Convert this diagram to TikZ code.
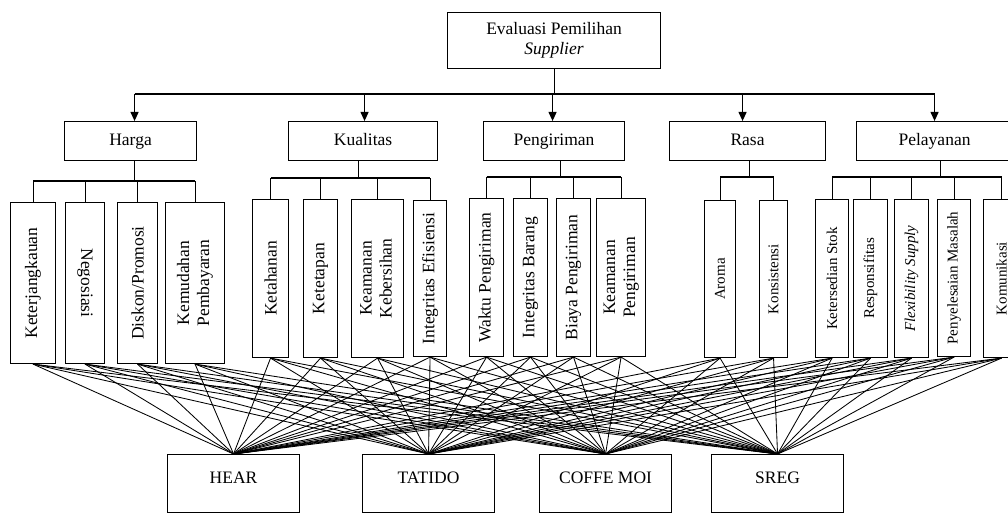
\documentclass[tikz,border=0pt]{standalone}
\usepackage{fontspec}
\setmainfont{Liberation Serif}
\usetikzlibrary{arrows.meta}
\begin{document}
\begin{tikzpicture}[x=1pt,y=-1pt,
  box/.style={draw, line width=1.1pt, inner sep=0pt, anchor=north west, font=\fontsize{17.5}{20}\selectfont},
  lvl/.style={box, minimum height=39, text height=12pt, text depth=4pt},
  sub/.style={box},
  smalltxt/.style={font=\fontsize{15}{18}\selectfont},
  altbox/.style={box, minimum width=132, text height=29pt, text depth=29pt},
  conn/.style={line width=0.85pt},
  tree/.style={line width=1.1pt},
  arr/.style={line width=1.1pt, -{Triangle[length=9pt,width=8pt]}},
]
\useasboundingbox (0,0) rectangle (1008,513);
\clip (0,0) rectangle (1008,513);

% top
\node[box, minimum width=213, minimum height=56, align=center] (top) at (447,12) {Evaluasi Pemilihan\\\textit{Supplier}};

% level 2
\node[lvl, minimum width=132] (harga) at (64,121) {Harga};
\node[lvl, minimum width=149] (kualitas) at (288,121) {Kualitas};
\node[lvl, minimum width=141] (pengiriman) at (483,121) {Pengiriman};
\node[lvl, minimum width=156] (rasa) at (669,121) {Rasa};
\node[lvl, minimum width=156] (pelayanan) at (856,121) {Pelayanan};

% bus
\coordinate (bus) at (0,94);
\draw[tree] (top.south) -- (top.south |- bus);
\draw[tree] ([xshift=4pt]harga.north |- bus) -- (pelayanan.north |- bus);
\draw[arr] ([xshift=4pt]harga.north |- bus) -- ([xshift=4pt]harga.north);
\draw[arr] ([xshift=1.5pt]kualitas.north |- bus) -- ([xshift=1.5pt]kualitas.north);
\draw[arr] ([xshift=-1.5pt]pengiriman.north |- bus) -- ([xshift=-1.5pt]pengiriman.north);
\draw[arr] ([xshift=-5pt]rasa.north |- bus) -- ([xshift=-5pt]rasa.north);
\draw[arr] (pelayanan.north |- bus) -- (pelayanan.north);

% level 3 : Harga
\node[sub, minimum width=45, minimum height=161] (k1) at (10,202) {\rotatebox{90}{Keterjangkauan}};
\node[sub, minimum width=39, minimum height=161] (k2) at (65,202) {\rotatebox{-90}{Negosiasi}};
\node[sub, minimum width=40, minimum height=161] (k3) at (117,202) {\rotatebox{90}{Diskon/Promosi}};
\node[sub, minimum width=59, minimum height=161] (k4) at (165,202) {\rotatebox{90}{\begin{tabular}{@{}c@{}}Kemudahan\\Pembayaran\end{tabular}}};
% Kualitas
\node[sub, minimum width=36, minimum height=158] (k5) at (252,199) {\rotatebox{90}{Ketahanan}};
\node[sub, minimum width=34, minimum height=158] (k6) at (303,199) {\rotatebox{90}{Ketetapan}};
\node[sub, minimum width=52, minimum height=158] (k7) at (351,199) {\rotatebox{90}{\begin{tabular}{@{}c@{}}Keamanan\\Kebersihan\end{tabular}}};
\node[sub, minimum width=33, minimum height=156] (k8) at (413,200) {\rotatebox{90}{Integritas Efisiensi}};
% Pengiriman
\node[sub, minimum width=34, minimum height=158] (k9) at (469,198) {\rotatebox{90}{Waktu Pengiriman}};
\node[sub, minimum width=34, minimum height=158] (k10) at (513,198) {\rotatebox{90}{Integritas Barang}};
\node[sub, minimum width=34, minimum height=158] (k11) at (556,198) {\rotatebox{90}{Biaya Pengiriman}};
\node[sub, minimum width=49, minimum height=158] (k12) at (596,198) {\rotatebox{90}{\begin{tabular}{@{}c@{}}Keamanan\\Pengiriman\end{tabular}}};
% Rasa
\node[sub, smalltxt, minimum width=31, minimum height=157] (k13) at (704,200) {\rotatebox{90}{Aroma}};
\node[sub, smalltxt, minimum width=28, minimum height=157] (k14) at (759,200) {\rotatebox{90}{Konsistensi}};
% Pelayanan
\node[sub, smalltxt, minimum width=33, minimum height=158] (k15) at (815,199) {\rotatebox{90}{Ketersedian Stok}};
\node[sub, smalltxt, minimum width=34, minimum height=158] (k16) at (853,199) {\rotatebox{90}{Responsifitas}};
\node[sub, smalltxt, minimum width=34, minimum height=158] (k17) at (894,199) {\rotatebox{90}{\textit{Flexibility Supply}}};
\node[sub, smalltxt, minimum width=33, minimum height=157] (k18) at (937,199) {\rotatebox{90}{Penyelesaian Masalah}};
\node[sub, smalltxt, minimum width=36, minimum height=158] (k19) at (983,199) {\rotatebox{90}{Komunikasi}};

% tree connectors level 2 -> level 3
\coordinate (ha) at (0,181);
\draw[tree] ([xshift=4pt]harga.south) -- ([xshift=4pt]harga.south |- ha);
\draw[tree] (k1.north |- ha) -- (k4.north |- ha);
\foreach \c in {k1,k2,k3,k4} \draw[tree] (\c.north |- ha) -- (\c.north);

\coordinate (ku) at (0,178);
\draw[tree] ([xshift=-4.5pt]kualitas.south) -- ([xshift=-4.5pt]kualitas.south |- ku);
\draw[tree] (k5.north |- ku) -- (k8.north |- ku);
\foreach \c in {k5,k6,k7,k8} \draw[tree] (\c.north |- ku) -- (\c.north);

\coordinate (pe) at (0,177);
\draw[tree] ([xshift=6.5pt]pengiriman.south) -- ([xshift=6.5pt]pengiriman.south |- pe);
\draw[tree] (k9.north |- pe) -- (k12.north |- pe);
\foreach \c in {k9,k10,k11,k12} \draw[tree] (\c.north |- pe) -- (\c.north);

\draw[tree] ([xshift=2pt]rasa.south) -- ([xshift=2pt]rasa.south |- pe);
\draw[tree] (k13.north |- pe) -- (k14.north |- pe);
\foreach \c in {k13,k14} \draw[tree] (\c.north |- pe) -- (\c.north);

\draw[tree] ([xshift=6pt]pelayanan.south) -- ([xshift=6pt]pelayanan.south |- pe);
\draw[tree] (k15.north |- pe) -- (k19.north |- pe);
\foreach \c in {k15,k16,k17,k18,k19} \draw[tree] (\c.north |- pe) -- (\c.north);

% alternatives
\node[altbox] (hear) at (167,454) {HEAR};
\node[altbox] (tatido) at (362,454) {TATIDO};
\node[altbox] (coffe) at (539,454) {COFFE MOI};
\node[altbox] (sreg) at (711,454) {SREG};

\foreach \s in {k1,k2,k3,k4,k5,k6,k7,k8,k9,k10,k11,k12,k13,k14,k15,k16,k17,k18,k19}
  \foreach \a in {hear,tatido,coffe,sreg}
    \draw[conn] (\s.south) -- (\a.north);
\end{tikzpicture}
\end{document}
